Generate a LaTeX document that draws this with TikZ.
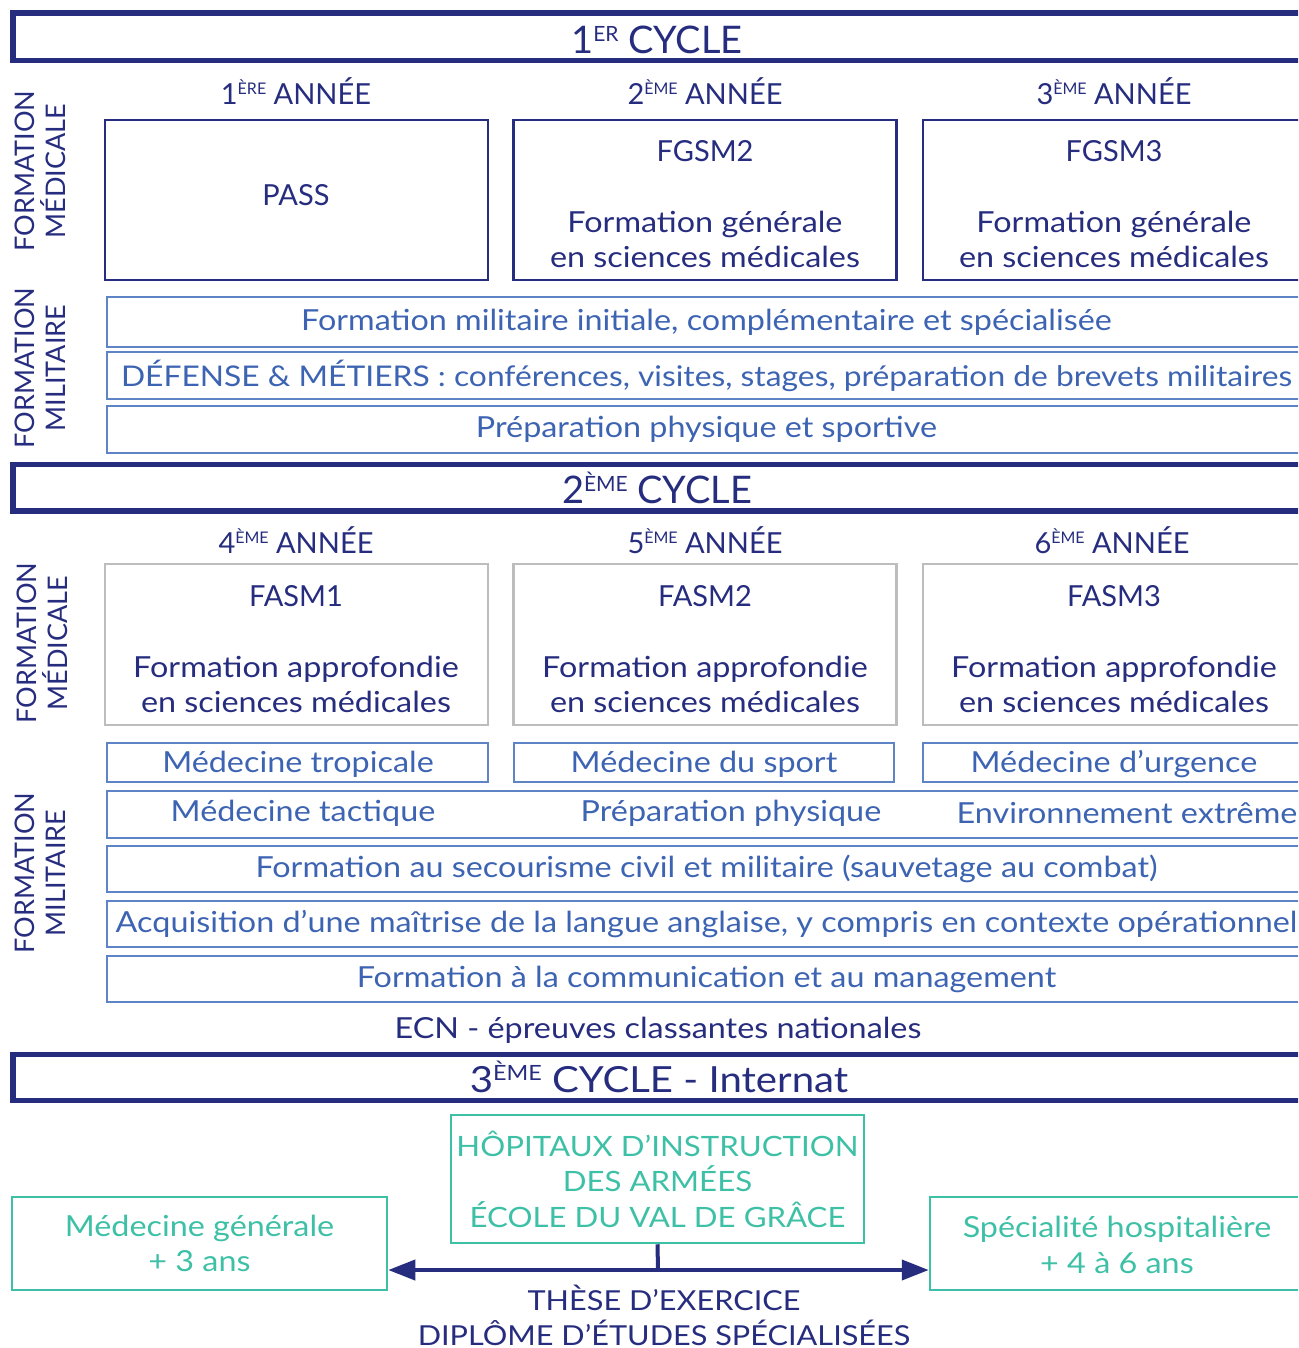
\documentclass[tikz,border=0pt]{standalone}
\usepackage{fontspec}
\setmainfont{Lato}
\newfontfamily\lw[FakeStretch=1.115]{Lato}
\usetikzlibrary{arrows.meta}
\definecolor{navy}{HTML}{262C7E}
\definecolor{mblue}{HTML}{5E84C6}
\definecolor{mtext}{HTML}{3D64B2}
\definecolor{tealc}{HTML}{3EC0A6}
\definecolor{grayb}{HTML}{BDBDBD}
\newcommand{\supA}[1]{\raisebox{9.5pt}{\fontsize{16}{16}\selectfont #1}}
\newcommand{\supB}[1]{\raisebox{12pt}{\fontsize{21}{21}\selectfont #1}}
\begin{document}
\begin{tikzpicture}[x=1pt,y=-1pt,
  cycbar/.style={draw=navy, line width=5.5pt, inner sep=0pt, minimum width=1292pt, minimum height=46.5pt},
  cyctxt/.style={text=navy, font=\fontsize{38}{44}\selectfont, inner sep=0pt},
  yeartxt/.style={text=navy, font=\fontsize{29}{35}\selectfont, inner sep=0pt},
  medbox/.style={draw=navy, line width=2.5pt, inner sep=0pt, minimum width=383pt, minimum height=160pt},
  medboxg/.style={draw=grayb, line width=2.5pt, inner sep=0pt, minimum width=383pt, minimum height=161pt},
  medttl/.style={text=navy, font=\fontsize{29}{35}\selectfont, align=center, inner sep=0pt},
  medtxt/.style={text=navy, font=\lw\fontsize{29}{35}\selectfont, align=center, inner sep=0pt},
  milbox/.style={draw=mblue, line width=2.5pt, inner sep=0pt, minimum width=1199pt, minimum height=47pt, text=mtext, font=\lw\fontsize{29}{35}\selectfont},
  specbox/.style={draw=mblue, line width=2.5pt, inner sep=0pt, minimum height=39pt},
  miltxt/.style={text=mtext, font=\lw\fontsize{29}{35}\selectfont, inner sep=0pt},
  sidelbl/.style={text=navy, rotate=90, align=center, font=\fontsize{27}{31}\selectfont, inner sep=0pt},
  tealbox/.style={draw=tealc, line width=2.5pt, inner sep=0pt, text=tealc, align=center, font=\lw\fontsize{29}{35.5}\selectfont},
  conn/.style={draw=navy, line width=4pt}
]
\useasboundingbox (0,0) rectangle (1298,1348);
\clip (0,0) rectangle (1298,1348);

% ---------- 1er cycle ----------
\node[cycbar, minimum height=47.5pt] (c1) at (659,36.75) {};
\node[cyctxt] (c1t) at (657,40) {1\supB{ER} CYCLE};

\node[yeartxt] (y1) at (296,91) {1\supA{ÈRE} ANNÉE};
\node[yeartxt] (y2) at (705,91) {2\supA{ÈME} ANNÉE};
\node[yeartxt] (y3) at (1114,91) {3\supA{ÈME} ANNÉE};

\node[medbox] (pass) at (296.5,200) {};
\node[medbox] (fgsm2) at (705,200) {};
\node[medbox] (fgsm3) at (1114.5,200) {};
\node[medttl] (passt) at (296,195) {PASS};
\node[medttl] (fgsm2t) at (705,151) {FGSM2};
\node[medtxt] (fgsm2d) at (705,239) {Formation générale\\en sciences médicales};
\node[medttl] (fgsm3t) at (1114,151) {FGSM3};
\node[medtxt] (fgsm3d) at (1114,239) {Formation générale\\en sciences médicales};

\node[sidelbl] (lm1) at (40,171) {FORMATION\\MÉDICALE};
\node[sidelbl] (lf1) at (40,368) {FORMATION\\MILITAIRE};

\node[milbox, minimum height=50pt] (m1) at (706.5,322) {Formation militaire initiale, complémentaire et spécialisée};
\node[milbox, font=\lw\fontsize{28.5}{35}\selectfont] (m2) at (706.5,375.5) {DÉFENSE \& MÉTIERS : conférences, visites, stages, préparation de brevets militaires};
\node[milbox] (m3) at (706.5,429.5) {Préparation physique et sportive};

% ---------- 2eme cycle ----------
\node[cycbar] (c2) at (659,487.75) {};
\node[cyctxt] (c2t) at (657,488) {2\supB{ÈME} CYCLE};

\node[yeartxt] (y4) at (296,540) {4\supA{ÈME} ANNÉE};
\node[yeartxt] (y5) at (705,540) {5\supA{ÈME} ANNÉE};
\node[yeartxt] (y6) at (1112,540) {6\supA{ÈME} ANNÉE};

\node[medboxg] (fasm1) at (296.5,644.5) {};
\node[medboxg] (fasm2) at (705,644.5) {};
\node[medboxg] (fasm3) at (1114.5,644.5) {};
\node[medttl] (fasm1t) at (296,596) {FASM1};
\node[medtxt] (fasm1d) at (296,684) {Formation approfondie\\en sciences médicales};
\node[medttl] (fasm2t) at (705,596) {FASM2};
\node[medtxt] (fasm2d) at (705,684) {Formation approfondie\\en sciences médicales};
\node[medttl] (fasm3t) at (1114,596) {FASM3};
\node[medtxt] (fasm3d) at (1114,684) {Formation approfondie\\en sciences médicales};

\node[sidelbl] (lm2) at (42,643) {FORMATION\\MÉDICALE};
\node[sidelbl] (lf2) at (40,873) {FORMATION\\MILITAIRE};

\node[specbox, minimum width=381pt] (trop) at (297.5,762.5) {};
\node[specbox, minimum width=380pt] (sport) at (704,762.5) {};
\node[specbox, minimum width=383pt] (urg) at (1114.5,762.5) {};
\node[miltxt] (tropt) at (298,764) {Médecine tropicale};
\node[miltxt] (sportt) at (704,764) {Médecine du sport};
\node[miltxt] (urgt) at (1114,764) {Médecine d’urgence};

\node[milbox] (m4) at (706.5,814.5) {};
\node[miltxt] (m4a) at (303,813) {Médecine tactique};
\node[miltxt] (m4b) at (731,813) {Préparation physique};
\node[miltxt] (m4c) at (1127,813) {Environnement extrême};
\node[milbox, minimum height=46pt] (m5) at (706.5,869) {Formation au secourisme civil et militaire (sauvetage au combat)};
\node[milbox, minimum height=46pt] (m6) at (706.5,924) {Acquisition d’une maîtrise de la langue anglaise, y compris en contexte opérationnel};
\node[milbox, minimum height=46pt] (m7) at (706.5,979) {Formation à la communication et au management};

\node[medtxt] (ecn) at (658,1030) {ECN - épreuves classantes nationales};

% ---------- 3eme cycle ----------
\node[cycbar, minimum height=46pt] (c3) at (659,1077.5) {};
\node[cyctxt, font=\lw\fontsize{36}{42}\selectfont] (c3t) at (659,1077) {3\supB{ÈME} CYCLE - Internat};

\node[tealbox, minimum width=413pt, minimum height=128pt, font=\lw\fontsize{28}{35.5}\selectfont] (hop) at (657.5,1179) {HÔPITAUX D’INSTRUCTION\\DES ARMÉES\\ÉCOLE DU VAL DE GRÂCE};
\node[tealbox, minimum width=375pt, minimum height=93pt] (mg) at (199.5,1243.5) {Médecine générale\\+ 3 ans};
\node[tealbox, minimum width=376pt, minimum height=93pt] (sh) at (1118,1243.5) {};
\node[text=tealc, align=center, font=\lw\fontsize{29}{35.5}\selectfont, inner sep=0pt] (sht) at (1117,1245) {Spécialité hospitalière\\+ 4 à 6 ans};

\coordinate (j) at (658,1270);
\draw[conn] (hop.south) -- (j);
\draw[conn, {Triangle[length=27pt,width=20pt]}-{Triangle[length=27pt,width=20pt]}] (mg.east |- j) -- (sh.west |- j);

\node[medtxt, font=\lw\fontsize{27.5}{35}\selectfont] (these) at (664,1315) {THÈSE D’EXERCICE\\DIPLÔME D’ÉTUDES SPÉCIALISÉES};
\end{tikzpicture}
\end{document}
